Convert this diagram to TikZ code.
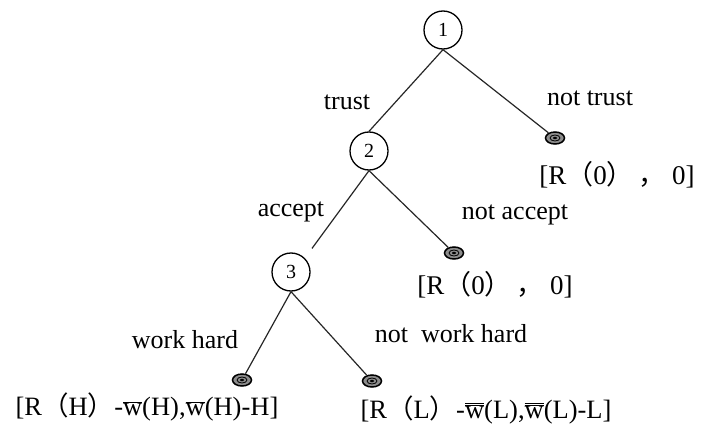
\documentclass[tikz,border=0pt]{standalone}
\usepackage{fontspec}
\setmainfont{Liberation Serif}
\newfontfamily\cjk{Noto Sans CJK SC}
\newcommand{\wbar}{\ensuremath{\overline{\mbox{w}}}}
\newcommand{\wbbar}{\ensuremath{\overline{\overline{\mbox{w}}}}}
\tikzset{
  stage/.style={draw,circle,line width=1.3pt,minimum size=38pt,inner sep=0pt,font=\fontsize{20}{24}\selectfont},
  leaf/.style={draw,ellipse,line width=1.5pt,fill=black!45,minimum width=19pt,minimum height=12pt,inner sep=0pt},
  edge/.style={line width=1.2pt,black!85},
  act/.style={font=\fontsize{26}{30}\selectfont},
  pay/.style={font=\fontsize{27}{32}\selectfont}
}
\usetikzlibrary{shapes.geometric}
\begin{document}
\begin{tikzpicture}[x=1pt,y=-1pt]
\useasboundingbox (0,0) rectangle (706,425);
\node[stage](n1) at (443,30) {1};
\node[stage](n2) at (369,151) {2};
\node[stage](n3) at (291,272) {3};
\node[leaf](d1) at (555,138) {};
\node[leaf](d2) at (454,253) {};
\node[leaf](dH) at (242,380) {};
\node[leaf](dL) at (372,381) {};
\foreach \d in {d1,d2,dH,dL}{
  \draw[line width=0.8pt] (\d) ellipse (5pt and 3pt);
  \fill (\d) ellipse (2pt and 1.2pt);}
\draw[edge](n1.south)--(n2.north);
\draw[edge](n1.south)--(d1);
\draw[edge,shorten >=12pt](n2.south)--(n3.north east);
\draw[edge](n2.south)--(d2);
\draw[edge](n3.south)--(dH);
\draw[edge](n3.south)--(dL);
\node[act](trust) at (347,102) {trust};
\node[act](ntrust) at (590,98) {not trust};
\node[act](acc) at (291,212) {accept};
\node[act](nacc) at (515,215) {not accept};
\node[act](work) at (185,340) {work hard};
\node[act](nwork) at (451,334) {not\ \ work hard};
\node[pay](p1) at (617,175) {[R{\cjk（}0{\cjk）}\,{\cjk，}\ 0]};
\node[pay](p2) at (495,285) {[R{\cjk（}0{\cjk）}\,{\cjk，}\ 0]};
\node[pay](pH) at (147,407) {\fontsize{26.5}{30}\selectfont[R{\cjk（}H{\cjk）}-\wbar(H),\wbar(H)-H]};
\node[pay](pL) at (486,410) {\fontsize{26.5}{30}\selectfont[R{\cjk（}L{\cjk）}-\wbbar(L),\wbbar(L)-L]};
\end{tikzpicture}
\end{document}
